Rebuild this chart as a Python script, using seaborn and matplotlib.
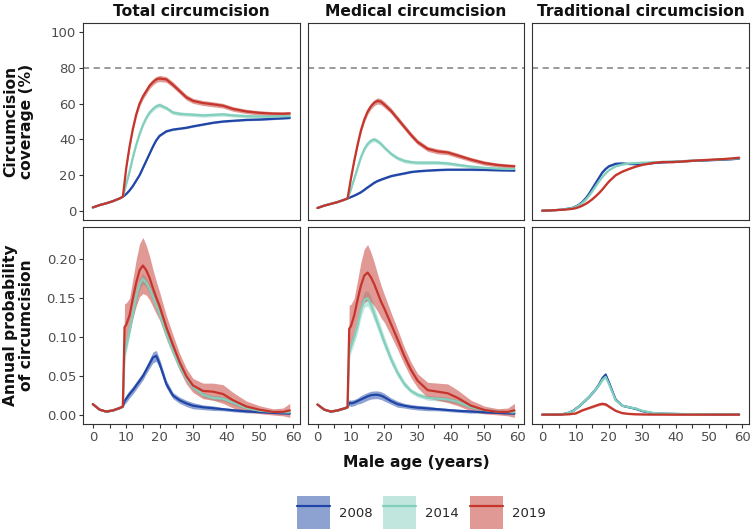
import numpy as np
import pandas as pd
import matplotlib
matplotlib.use("Agg")
import matplotlib.pyplot as plt
import seaborn as sns
from matplotlib.patches import Patch
from matplotlib.lines import Line2D
from matplotlib.legend_handler import HandlerTuple

ages = [0, 2, 4, 6, 8, 9, 9.5, 10, 11, 12, 13, 14, 15, 16, 17, 18, 19, 20,
        22, 24, 26, 28, 30, 33, 36, 39, 42, 46, 50, 54, 57, 59]
years = ["2008", "2014", "2019"]
line_colours = {"2008": "#1F46A6", "2014": "#82CFBD", "2019": "#C5352C"}
col_titles = ["Total circumcision", "Medical circumcision", "Traditional circumcision"]
row_labels = ["Circumcision\ncoverage (%)", "Annual probability\nof circumcision"]
target_coverage = 80

# --- coverage (%) ---
tot_cov_2008 = [2, 3.3, 4.3, 5.5, 7, 8, 8.7, 9.5, 11.5, 14, 17, 20, 24, 28, 32, 36, 39.5, 42,
                44.5, 45.5, 46, 46.5, 47.3, 48.3, 49.3, 50, 50.4, 50.9, 51.1, 51.5, 51.8, 52]
tot_cov_2014 = [2, 3.3, 4.3, 5.5, 7, 8, 11.5, 15, 22, 30, 37, 43, 48, 52, 55, 57, 58.5, 59.2,
                57.5, 55, 54.3, 54, 53.8, 53.4, 53.7, 54, 53.4, 53, 52.8, 52.8, 52.9, 53]
tot_cov_2019 = [2, 3.3, 4.3, 5.5, 7, 8, 16, 24, 36, 46, 54, 60, 64, 67, 70, 72, 73.5, 74,
                73.5, 70.5, 67, 63.5, 61.5, 60.3, 59.6, 58.8, 57, 55.6, 54.8, 54.4, 54.3, 54.5]

med_cov_2008 = [1.7, 3, 4, 5, 6.3, 7, 7.4, 7.8, 8.6, 9.5, 10.5, 11.8, 13.2, 14.5, 15.8, 16.8, 17.5, 18.2,
                19.5, 20.3, 21, 21.8, 22.2, 22.6, 22.9, 23.1, 23.1, 23.1, 23, 22.8, 22.7, 22.6]
med_cov_2014 = [1.7, 3, 4, 5, 6.3, 7, 9.5, 12, 18, 24, 30, 34.5, 37.5, 39.3, 40, 39, 37.5, 35.5,
                32, 29.5, 28, 27.3, 27, 27, 27, 26.6, 25.8, 24.8, 24.1, 23.7, 23.5, 23.5]
med_cov_2019 = [1.7, 3, 4, 5, 6.3, 7, 12.5, 18, 28, 37, 45, 51, 55.5, 58.5, 60.5, 61.5, 61, 59.5,
                56, 51.5, 47, 42.5, 38.5, 34.7, 33.3, 32.7, 31, 28.7, 26.8, 25.7, 25.2, 25]

trad_cov_2008 = [0.2, 0.3, 0.5, 0.8, 1.4, 1.7, 2.1, 2.5, 3.5, 5, 7, 9.5, 12.5, 15.5, 18.5, 21.5, 23.5, 25,
                 26.4, 26.6, 26.3, 26.2, 26.4, 26.8, 27.2, 27.5, 27.8, 28.1, 28.4, 28.7, 29, 29.3]
trad_cov_2014 = [0.2, 0.3, 0.5, 0.8, 1.3, 1.6, 1.9, 2.3, 3.2, 4.5, 6.2, 8.5, 11, 13.8, 16.5, 19, 21, 22.8,
                 25, 26, 26.5, 26.8, 27, 27.2, 27.4, 27.6, 27.9, 28.2, 28.5, 28.9, 29.2, 29.5]
trad_cov_2019 = [0.2, 0.3, 0.5, 0.7, 1, 1.2, 1.4, 1.6, 2.2, 3, 4, 5.2, 6.6, 8.2, 10, 12, 14.3, 16.5,
                 20, 22, 23.5, 24.8, 25.8, 26.8, 27.4, 27.3, 27.7, 28.2, 28.6, 29, 29.4, 29.8]

# uncertainty half-widths for coverage
cov_hw_2008 = [0, 0, 0, 0, 0, 0, 0.2, 0.3, 0.3, 0.4, 0.4, 0.4, 0.5, 0.5, 0.5, 0.5, 0.5, 0.5,
               0.5, 0.5, 0.5, 0.5, 0.5, 0.5, 0.5, 0.5, 0.5, 0.5, 0.5, 0.5, 0.5, 0.5]
cov_hw_2014 = [0, 0, 0, 0, 0, 0, 0.4, 0.6, 0.8, 1, 1.1, 1.2, 1.2, 1.2, 1.2, 1.2, 1.2, 1.2,
               1.1, 1.1, 1.1, 1, 1, 1, 1, 1, 0.9, 0.9, 0.9, 0.9, 0.8, 0.8]
cov_hw_2019 = [0, 0, 0, 0, 0, 0, 0.6, 1, 1.3, 1.5, 1.6, 1.7, 1.7, 1.7, 1.7, 1.7, 1.7, 1.7,
               1.6, 1.6, 1.5, 1.5, 1.4, 1.4, 1.4, 1.3, 1.3, 1.2, 1.2, 1.1, 1.1, 1.1]
trad_cov_hw = [0.1, 0.1, 0.1, 0.1, 0.2, 0.2, 0.2, 0.3, 0.3, 0.4, 0.4, 0.4, 0.4, 0.4, 0.4, 0.4, 0.4, 0.4,
               0.4, 0.4, 0.4, 0.4, 0.4, 0.4, 0.4, 0.4, 0.4, 0.4, 0.4, 0.4, 0.4, 0.4]

# --- annual probability ---
tot_prob_2008 = [0.014, 0.007, 0.0045, 0.006, 0.009, 0.011, 0.018, 0.021, 0.027, 0.032, 0.038, 0.044,
                 0.050, 0.058, 0.066, 0.074, 0.076, 0.066, 0.040, 0.025, 0.019, 0.015, 0.012, 0.010,
                 0.0088, 0.0075, 0.0062, 0.0048, 0.0038, 0.0028, 0.0022, 0.002]
tot_prob_2014 = [0.014, 0.007, 0.0045, 0.006, 0.009, 0.011, 0.078, 0.088, 0.108, 0.130, 0.152, 0.168,
                 0.175, 0.170, 0.162, 0.152, 0.141, 0.130, 0.104, 0.082, 0.062, 0.047, 0.036, 0.026,
                 0.022, 0.021, 0.016, 0.009, 0.0055, 0.0042, 0.0035, 0.0035]
tot_prob_2019 = [0.014, 0.007, 0.0045, 0.006, 0.009, 0.011, 0.113, 0.116, 0.128, 0.150, 0.170, 0.186,
                 0.192, 0.186, 0.176, 0.163, 0.151, 0.140, 0.113, 0.090, 0.068, 0.050, 0.038, 0.031,
                 0.030, 0.027, 0.019, 0.011, 0.0068, 0.004, 0.004, 0.006]

med_prob_2008 = [0.0135, 0.007, 0.0045, 0.006, 0.0085, 0.010, 0.016, 0.015, 0.016, 0.018, 0.020, 0.022,
                 0.024, 0.0255, 0.026, 0.026, 0.025, 0.023, 0.018, 0.014, 0.012, 0.0105, 0.0095, 0.0085,
                 0.0075, 0.0065, 0.0055, 0.0045, 0.0035, 0.0028, 0.0022, 0.002]
med_prob_2014 = [0.0135, 0.007, 0.0045, 0.006, 0.0085, 0.010, 0.080, 0.088, 0.100, 0.115, 0.135, 0.148,
                 0.150, 0.142, 0.130, 0.118, 0.106, 0.094, 0.072, 0.054, 0.040, 0.031, 0.026, 0.022,
                 0.021, 0.020, 0.017, 0.010, 0.0065, 0.0045, 0.0038, 0.0035]
med_prob_2019 = [0.0135, 0.007, 0.0045, 0.006, 0.0085, 0.010, 0.111, 0.114, 0.128, 0.148, 0.166, 0.179,
                 0.183, 0.177, 0.168, 0.157, 0.146, 0.137, 0.117, 0.097, 0.076, 0.058, 0.044, 0.032,
                 0.030, 0.028, 0.022, 0.012, 0.0065, 0.0042, 0.004, 0.006]

trad_prob_2008 = [0.0005, 0.0005, 0.0006, 0.001, 0.003, 0.005, 0.006, 0.008, 0.011, 0.015, 0.019, 0.023,
                  0.028, 0.033, 0.039, 0.047, 0.052, 0.042, 0.020, 0.012, 0.010, 0.008, 0.005, 0.0025,
                  0.0018, 0.0015, 0.0012, 0.0012, 0.001, 0.0008, 0.0008, 0.0008]
trad_prob_2014 = [0.0005, 0.0005, 0.0006, 0.001, 0.003, 0.0045, 0.0055, 0.0075, 0.011, 0.015, 0.019, 0.023,
                  0.028, 0.033, 0.038, 0.045, 0.049, 0.040, 0.019, 0.012, 0.010, 0.0085, 0.0055, 0.0028,
                  0.002, 0.0016, 0.0013, 0.0012, 0.0011, 0.0009, 0.0008, 0.0008]
trad_prob_2019 = [0.0005, 0.0005, 0.0005, 0.0006, 0.001, 0.0015, 0.0018, 0.002, 0.004, 0.006, 0.0075, 0.009,
                  0.0105, 0.012, 0.0135, 0.0145, 0.0138, 0.011, 0.0055, 0.0025, 0.0015, 0.001, 0.0008, 0.0006,
                  0.0006, 0.0005, 0.0005, 0.0005, 0.0005, 0.0005, 0.0005, 0.0005]

# uncertainty half-widths for probabilities
tot_prob_hw_2008 = [0.001, 0.001, 0.001, 0.001, 0.001, 0.001, 0.004, 0.005, 0.005, 0.005, 0.005, 0.005,
                    0.005, 0.005, 0.006, 0.007, 0.007, 0.006, 0.005, 0.004, 0.004, 0.004, 0.004, 0.003,
                    0.003, 0.002, 0.002, 0.002, 0.001, 0.001, 0.001, 0.001]
tot_prob_hw_2014 = [0.001, 0.001, 0.001, 0.001, 0.001, 0.001, 0.010, 0.008, 0.007, 0.007, 0.007, 0.007,
                    0.007, 0.006, 0.006, 0.006, 0.006, 0.006, 0.005, 0.004, 0.004, 0.003, 0.003, 0.003,
                    0.003, 0.003, 0.003, 0.002, 0.002, 0.001, 0.001, 0.001]
tot_prob_hw_2019 = [0.001, 0.001, 0.001, 0.001, 0.001, 0.001, 0.030, 0.028, 0.022, 0.025, 0.030, 0.034,
                    0.036, 0.032, 0.028, 0.024, 0.021, 0.018, 0.015, 0.013, 0.011, 0.010, 0.009, 0.010,
                    0.011, 0.012, 0.010, 0.007, 0.005, 0.004, 0.005, 0.009]
med_prob_hw_2008 = [0.001, 0.001, 0.001, 0.001, 0.001, 0.001, 0.004, 0.004, 0.004, 0.004, 0.005, 0.005,
                    0.005, 0.005, 0.005, 0.005, 0.005, 0.005, 0.004, 0.004, 0.003, 0.003, 0.003, 0.003,
                    0.002, 0.002, 0.002, 0.002, 0.001, 0.001, 0.001, 0.001]
med_prob_hw_2014 = [0.001, 0.001, 0.001, 0.001, 0.001, 0.001, 0.008, 0.008, 0.008, 0.009, 0.010, 0.010,
                    0.010, 0.010, 0.009, 0.008, 0.008, 0.007, 0.006, 0.005, 0.004, 0.003, 0.003, 0.003,
                    0.003, 0.003, 0.003, 0.002, 0.002, 0.001, 0.001, 0.001]
med_prob_hw_2019 = tot_prob_hw_2019
trad_prob_hw = [0.0003, 0.0003, 0.0003, 0.0004, 0.0006, 0.0008, 0.0008, 0.001, 0.001, 0.001, 0.0012, 0.0012,
                0.0014, 0.0014, 0.0015, 0.0018, 0.002, 0.0018, 0.0012, 0.001, 0.001, 0.0008, 0.0006, 0.0005,
                0.0004, 0.0004, 0.0003, 0.0003, 0.0003, 0.0003, 0.0003, 0.0003]

panels = {
    (0, 0): {"2008": (tot_cov_2008, cov_hw_2008), "2014": (tot_cov_2014, cov_hw_2014),
             "2019": (tot_cov_2019, cov_hw_2019)},
    (0, 1): {"2008": (med_cov_2008, cov_hw_2008), "2014": (med_cov_2014, cov_hw_2014),
             "2019": (med_cov_2019, cov_hw_2019)},
    (0, 2): {"2008": (trad_cov_2008, trad_cov_hw), "2014": (trad_cov_2014, trad_cov_hw),
             "2019": (trad_cov_2019, trad_cov_hw)},
    (1, 0): {"2008": (tot_prob_2008, tot_prob_hw_2008), "2014": (tot_prob_2014, tot_prob_hw_2014),
             "2019": (tot_prob_2019, tot_prob_hw_2019)},
    (1, 1): {"2008": (med_prob_2008, med_prob_hw_2008), "2014": (med_prob_2014, med_prob_hw_2014),
             "2019": (med_prob_2019, med_prob_hw_2019)},
    (1, 2): {"2008": (trad_prob_2008, trad_prob_hw), "2014": (trad_prob_2014, trad_prob_hw),
             "2019": (trad_prob_2019, trad_prob_hw)},
}

rows = []
for (r, c), series in panels.items():
    for yr, (vals, hw) in series.items():
        for a, v, h in zip(ages, vals, hw):
            rows.append(dict(row=r, col=c, year=yr, age=a, value=v, lo=v - h, hi=v + h))
df = pd.DataFrame(rows)

sns.set_theme(style="ticks")
plt.rcParams["font.family"] = ["DejaVu Sans"]

fig, axes = plt.subplots(2, 3, figsize=(7.51, 5.32), dpi=100)
fig.subplots_adjust(left=0.1105, right=0.9973, top=0.9568, bottom=0.203,
                    wspace=0.037, hspace=0.0355)

edge = "#333333"
for (r, c), ax in np.ndenumerate(axes):
    d = df[(df.row == r) & (df.col == c)]
    for yr in years:
        s = d[d.year == yr]
        ax.fill_between(s.age, s.lo, s.hi, color=line_colours[yr], alpha=0.5, lw=0)
    sns.lineplot(data=d, x="age", y="value", hue="year", hue_order=years,
                 palette=line_colours, ax=ax, legend=False, linewidth=1.6,
                 estimator=None, errorbar=None)
    ax.set_xlim(-2.95, 61.95)
    ax.set_xticks([0, 10, 20, 30, 40, 50, 60])
    ax.set_xticks([5, 15, 25, 35, 45, 55], minor=True)
    if r == 0:
        ax.axhline(target_coverage, color="#7F7F7F", lw=1.1, ls=(0, (4, 3)), zorder=1)
        ax.set_ylim(-5, 105)
        ax.set_yticks([0, 20, 40, 60, 80, 100])
        ax.set_title(col_titles[c], fontsize=11.2, fontweight="bold", pad=5, color="#111111")
    else:
        ax.set_ylim(-0.0115, 0.2415)
        ax.set_yticks([0, 0.05, 0.10, 0.15, 0.20])
        ax.set_yticklabels(["0.00", "0.05", "0.10", "0.15", "0.20"])
    ax.set_xlabel("")
    ax.set_ylabel("")
    for sp in ax.spines.values():
        sp.set_visible(True)
        sp.set_color(edge)
        sp.set_linewidth(0.8)
    ax.tick_params(which="both", direction="out", length=3, width=0.8, color=edge,
                   labelsize=9.5, labelcolor="#4D4D4D", pad=2)
    if r == 0:
        ax.tick_params(which="both", bottom=False, labelbottom=False)
    if c != 0:
        ax.tick_params(which="both", left=False, labelleft=False)
    else:
        ax.tick_params(which="minor", left=False)

for r, lab in enumerate(row_labels):
    pos = axes[r, 0].get_position()
    fig.text(0.025, (pos.y0 + pos.y1) / 2, lab, rotation=90, ha="center", va="center",
             multialignment="center", fontsize=11.2, fontweight="bold", color="#111111",
             linespacing=1.1)

fig.text(0.554, 0.130, "Male age (years)", ha="center", va="center",
         fontsize=11.2, fontweight="bold", color="#111111")

handles = [(Patch(facecolor=line_colours[yr], alpha=0.5, edgecolor="none"),
            Line2D([], [], color=line_colours[yr], lw=1.6)) for yr in years]
fig.legend(handles, years, loc="center", bbox_to_anchor=(0.561, 0.036), ncol=3,
           frameon=False, fontsize=9.5, handlelength=2.5, handleheight=3.5,
           handletextpad=0.7, columnspacing=0.8,
           handler_map={tuple: HandlerTuple(ndivide=1)})

fig.savefig("out.png", dpi=100)
